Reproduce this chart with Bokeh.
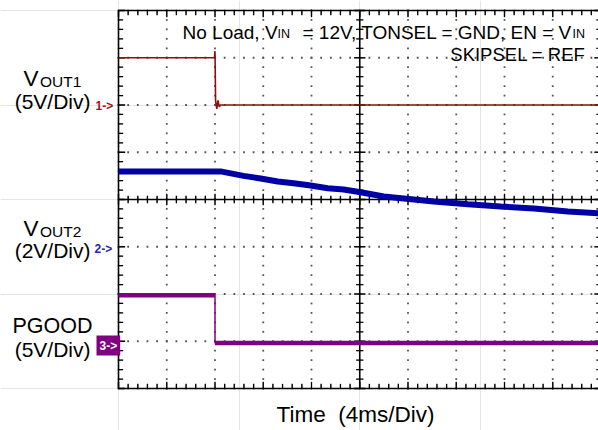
import numpy as np
from bokeh.plotting import figure
from bokeh.models import Range1d, Label
from bokeh.embed import file_html
from bokeh.resources import INLINE

# ---------------- data ----------------
MS_PER_DIV = 4
ch1_v_per_div, ch1_offset_div = 5, 2     # VOUT1
ch2_v_per_div, ch2_offset_div = 2, -1    # VOUT2
ch3_v_per_div, ch3_offset_div = 5, -3    # PGOOD

vout1_time_ms = [0, 7.95, 8.0, 8.05, 8.15, 8.25, 8.35, 8.45, 40]
vout1_volts = [5.0, 5.0, 5.7, 0.4, -0.4, 0.5, -0.2, 0.0, 0.0]

vout2_time_ms = [0, 8.46, 10.37, 11.78, 13.2, 14.52, 15.93, 17.34, 18.67, 20.08,
                 21.99, 26.14, 28.96, 31.7, 34.44, 37.26, 40]
vout2_volts = [3.19, 3.19, 3.00, 2.89, 2.76, 2.69, 2.59, 2.48, 2.42, 2.31,
               2.13, 1.92, 1.80, 1.70, 1.62, 1.49, 1.41]

pgood_time_ms = [0, 8.0, 8.0, 40]
pgood_volts = [4.87, 4.87, -0.18, -0.18]

# ---------------- layout of the screen (page pixels) ----------------
FONT = "Liberation Sans"
W, H = 598, 430
GRAT_LEFT, GRAT_TOP = 118, 10
PX_PER_DIV_X, PX_PER_DIV_Y = 48.25, 47.25
PX_PER_MS = PX_PER_DIV_X / MS_PER_DIV
Y_CENTRE = GRAT_TOP + 4 * PX_PER_DIV_Y

x_start = -GRAT_LEFT / PX_PER_MS
x_end = (W - GRAT_LEFT) / PX_PER_MS
y_top = Y_CENTRE / PX_PER_DIV_Y
y_bottom = -(H - Y_CENTRE) / PX_PER_DIV_Y

p = figure(width=W, height=H, output_backend="svg", toolbar_location=None, tools="",
           x_range=Range1d(x_start, x_end), y_range=Range1d(y_bottom, y_top),
           x_axis_location=None, y_axis_location=None)
p.min_border_left = 0
p.min_border_right = 0
p.min_border_top = 0
p.min_border_bottom = 0
p.outline_line_color = None
p.background_fill_color = "white"
p.border_fill_color = "white"

# ---------------- graticule ----------------
T_END = 10 * MS_PER_DIV
N_MINOR = 5
minor_x = [i * MS_PER_DIV / N_MINOR for i in range(10 * N_MINOR + 1)]
minor_y = [-4 + i / N_MINOR for i in range(8 * N_MINOR + 1)]

# dotted grid (every minor step along each major line, skipping centre and edges)
dx, dy = [], []
for k in range(1, 10):
    if k == 5:
        continue
    dx += [k * MS_PER_DIV] * len(minor_y)
    dy += minor_y
for j in range(-3, 4):
    if j == 0:
        continue
    dx += minor_x
    dy += [float(j)] * len(minor_x)
p.scatter(dx, dy, marker="square", size=1.8, fill_color="#555555", line_color=None)

# borders and centre cross
p.segment(x0=[0, 0, 0, T_END / 2, 0], y0=[-4, 4, -4, -4, 0],
          x1=[0, T_END, T_END, T_END / 2, T_END], y1=[4, 4, -4, 4, 0],
          line_color="black", line_width=1.6)

# tick marks built as small squares stacked along each tick (same glyph as the dots)
def tick_pts(x0, y0, dxp, dyp, npx):
    xs, ys = [], []
    for s in range(npx):
        xs.append(x0 + dxp * s / PX_PER_MS)
        ys.append(y0 + dyp * s / PX_PER_DIV_Y)
    return xs, ys

tk_x, tk_y = [], []
for i, xv in enumerate(minor_x):
    n = 7 if i % N_MINOR == 0 else 5
    a, b = tick_pts(xv, 4, 0, -1, n); tk_x += a; tk_y += b          # top edge
    a, b = tick_pts(xv, -4, 0, 1, n); tk_x += a; tk_y += b          # bottom edge
    c = 5 if i % N_MINOR == 0 else 3
    a, b = tick_pts(xv, -c / PX_PER_DIV_Y, 0, 1, 2 * c + 1); tk_x += a; tk_y += b  # centre
for i, yv in enumerate(minor_y):
    n = 7 if i % N_MINOR == 0 else 5
    a, b = tick_pts(0, yv, 1, 0, n); tk_x += a; tk_y += b           # left edge
    a, b = tick_pts(T_END, yv, -1, 0, n); tk_x += a; tk_y += b      # right edge
    c = 5 if i % N_MINOR == 0 else 3
    a, b = tick_pts(T_END / 2 - c / PX_PER_MS, yv, 1, 0, 2 * c + 1); tk_x += a; tk_y += b
p.scatter(tk_x, tk_y, marker="square", size=1.3, fill_color="black", line_color=None)

# ---------------- traces ----------------
def to_div(volts, vpd, off):
    return np.asarray(volts, dtype=float) / vpd + off

RED, BLUE, PURPLE = "#8c1010", "#0000a4", "#800080"

p.line(vout2_time_ms, to_div(vout2_volts, ch2_v_per_div, ch2_offset_div),
       line_color=BLUE, line_width=6)

pg_y = to_div(pgood_volts, ch3_v_per_div, ch3_offset_div)
p.line(pgood_time_ms, pg_y, line_color=PURPLE, line_width=1.5)
pt = np.asarray(pgood_time_ms, dtype=float)
flat = np.isclose(pg_y[:-1], pg_y[1:])
p.segment(x0=pt[:-1][flat], y0=pg_y[:-1][flat], x1=pt[1:][flat], y1=pg_y[1:][flat],
          line_color=PURPLE, line_width=4.5)

p.line(vout1_time_ms, to_div(vout1_volts, ch1_v_per_div, ch1_offset_div),
       line_color=RED, line_width=1.6)

# ---------------- texts (positioned by visual centre line) ----------------
def put(text, px, mid, size, color="black", align="left", style="normal", **kw):
    p.add_layout(Label(x=px, y=H - mid, x_units="screen", y_units="screen",
                       text=text, text_font=FONT, text_font_size=f"{size}px",
                       text_color=color, text_align=align, text_baseline="middle",
                       text_font_style=style, **kw))

put("No Load, V", 182, 31.5, 19)
put("IN", 277, 33.5, 12.5)
put("= 12V, TONSEL = GND, EN = V", 302, 31.5, 19)
put("IN", 572, 33.5, 12.5)
put("SKIPSEL = REF", 585, 53.5, 18.5, align="right")

put("V", 23, 78, 22.5)
put("OUT1", 39.5, 81, 15.5)
put("(5V/Div)", 90, 100.5, 21, align="right")
put("1->", 95, 105, 12, color="#a01414", style="bold")

put("V", 23, 228, 22.5)
put("OUT2", 39.5, 231, 15.5)
put("(2V/Div)", 90, 249.5, 21, align="right")
put("2->", 94, 248, 12, color="#2424c4", style="bold")

put("PGOOD", 12, 325.5, 21.5)
put("(5V/Div)", 90, 349, 21, align="right")
put("3->", 96, 345, 12, color="white", style="bold",
    background_fill_color=PURPLE, padding=3)

put("Time\u00a0 (4ms/Div)", 355, 414, 22.5, align="center")

open("out.html", "w").write(file_html(p, INLINE))
